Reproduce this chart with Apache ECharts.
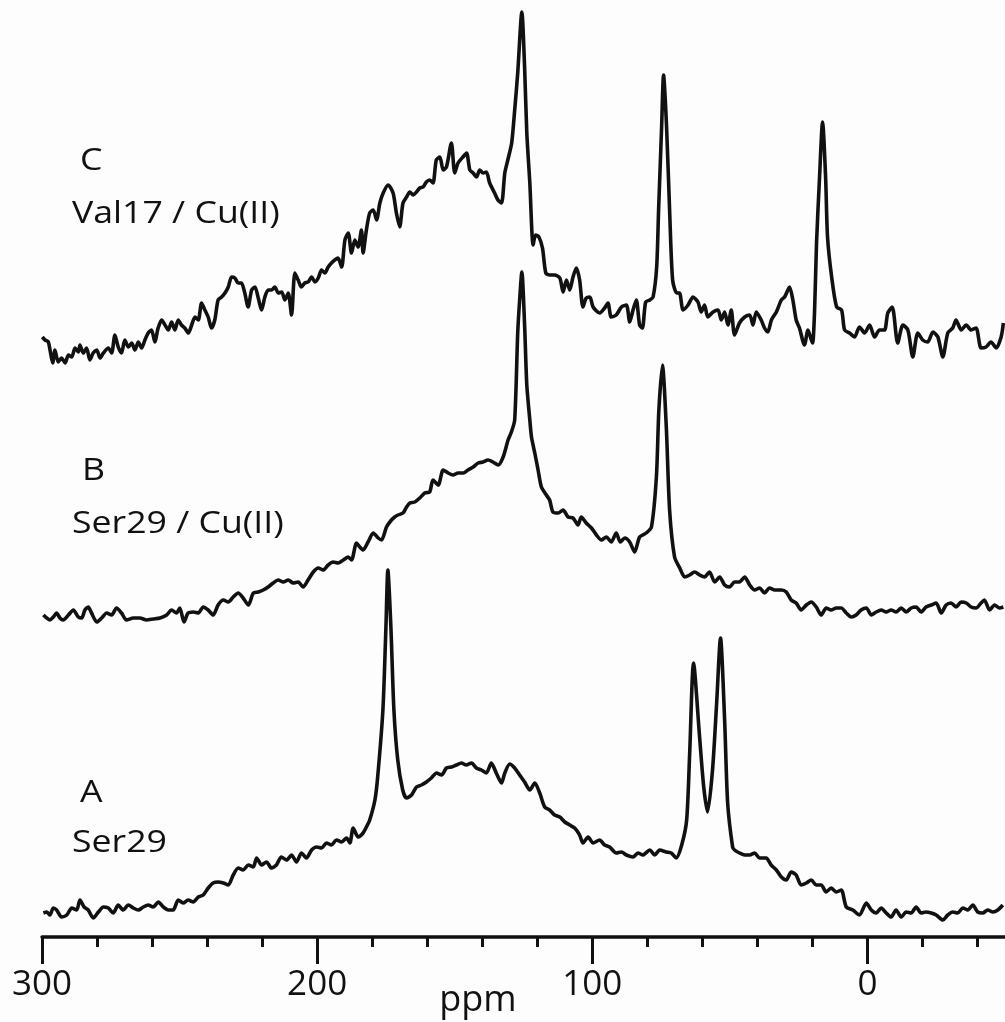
<!DOCTYPE html>
<html>
<head>
<meta charset="utf-8">
<script src="https://cdn.jsdelivr.net/npm/echarts@6/dist/echarts.min.js"></script>
<style>
  html, body { margin: 0; padding: 0; background: #fdfdfd; }
  #chart { width: 1005px; height: 1022px; }
</style>
</head>
<body>
<div id="chart"></div>
<script>
// x axis ticks (ppm, drawn right to left)
const majorTicks = [300, 200, 100, 0];
const minorTicks = [280, 260, 240, 220, 180, 160, 140, 120, 80, 60, 40, 20, -20, -40];

// vertical offset of each trace baseline (A bottom, C top)
const traceNames = ['A', 'B', 'C'];
const offsets = [22, 322, 592];

// [ppm, intensity above its own baseline]
const traceA = [
  [299.5, 2], [298.3, 3], [297.1, 0], [295.9, 7], [294.7, 5], [292.9, -2], [291.0, 0],
  [289.2, 7], [287.4, 5], [286.2, 15], [284.7, 8], [283.2, 5], [281.4, -3], [279.5, 3],
  [277.7, 8], [275.9, 7], [274.1, 2], [272.3, 10], [270.5, 5], [268.6, 10], [266.8, 7],
  [265.0, 5], [263.2, 8], [261.4, 10], [259.6, 8], [257.7, 13], [255.9, 8], [254.1, 5],
  [252.3, 5], [250.5, 15], [248.7, 12], [246.9, 15], [245.0, 13], [243.2, 18], [241.4, 20],
  [239.6, 27], [237.8, 32], [236.0, 33], [234.1, 32], [232.3, 30], [230.5, 40], [228.7, 47],
  [226.9, 45], [225.0, 50], [223.2, 48], [222.0, 57], [220.2, 50], [218.4, 53], [216.6, 47],
  [214.8, 50], [213.0, 58], [211.1, 55], [209.3, 60], [207.5, 53], [205.7, 62], [203.9, 57],
  [202.0, 65], [200.2, 68], [198.4, 67], [196.6, 72], [194.8, 70], [193.0, 75], [191.1, 73],
  [189.3, 77], [188.1, 72], [186.9, 87], [185.1, 78], [183.3, 82], [182.1, 88], [180.9, 95],
  [179.0, 115], [178.0, 138], [176.1, 205], [175.0, 288], [174.3, 345], [173.2, 288],
  [172.1, 205], [170.7, 155], [168.9, 125], [167.5, 117], [165.7, 120], [163.9, 128],
  [162.1, 130], [160.3, 133], [158.5, 137], [156.6, 142], [154.8, 140], [153.0, 147],
  [151.2, 148], [149.4, 150], [147.6, 152], [145.8, 150], [143.9, 152], [142.1, 147],
  [140.3, 145], [138.5, 142], [136.7, 152], [134.9, 142], [133.0, 132], [131.8, 142],
  [130.0, 151], [128.2, 147], [126.4, 140], [124.6, 133], [122.7, 125], [120.9, 132],
  [119.1, 122], [117.3, 108], [115.5, 105], [113.7, 100], [111.8, 98], [110.0, 93],
  [108.2, 90], [106.4, 87], [104.6, 80], [103.4, 72], [101.5, 78], [99.7, 72], [97.3, 75],
  [95.5, 70], [93.7, 68], [91.3, 62], [89.4, 63], [87.6, 60], [85.2, 58], [83.4, 62],
  [81.6, 60], [79.1, 65], [77.3, 60], [75.5, 65], [73.1, 63], [71.3, 62], [69.5, 57],
  [67.5, 70], [65.7, 95], [64.6, 162], [63.2, 252], [61.0, 178], [59.5, 128], [58.1, 103],
  [56.3, 145], [54.8, 212], [53.4, 277], [51.9, 195], [50.8, 112], [49.0, 68], [48.3, 65],
  [46.5, 62], [44.6, 60], [42.8, 60], [41.0, 62], [39.2, 57], [36.8, 57], [35.0, 50],
  [33.1, 45], [31.3, 38], [29.5, 35], [27.7, 43], [25.9, 40], [24.1, 30], [22.2, 32],
  [20.4, 35], [18.6, 30], [16.8, 30], [15.0, 23], [13.2, 27], [11.3, 23], [9.5, 25],
  [7.7, 8], [5.3, 5], [2.9, 0], [0.4, 12], [-1.4, 5], [-3.2, 2], [-5.0, 7], [-6.8, 2],
  [-8.6, -2], [-10.4, 5], [-12.3, -2], [-14.1, 3], [-15.9, 2], [-17.7, 8], [-19.5, 2],
  [-21.3, 3], [-23.2, 2], [-25.0, 0], [-27.4, -5], [-29.2, 0], [-31.0, 3], [-32.8, 2],
  [-34.7, 7], [-36.5, 5], [-38.3, 10], [-40.1, 3], [-41.9, 2], [-43.7, 5], [-45.6, 3],
  [-47.4, 5], [-49.2, 10]
];

const traceB = [
  [299.5, 0], [298.3, -3], [297.1, -5], [295.9, -2], [294.7, 2], [293.5, -3], [292.3, -5],
  [290.4, 0], [288.6, 5], [286.8, -2], [285.6, -3], [284.4, 5], [283.2, 8], [282.0, 2],
  [280.1, -7], [278.3, -3], [276.5, 2], [274.7, 0], [272.9, 7], [271.1, 2], [269.3, -5],
  [266.8, -3], [264.4, -3], [262.0, -5], [259.6, -4], [257.1, -3], [254.7, 0], [252.9, 5],
  [251.1, 2], [249.9, 7], [248.4, -7], [246.9, 2], [245.0, 3], [243.2, 2], [241.4, 8],
  [239.6, 5], [237.8, 0], [236.0, 10], [234.1, 15], [232.3, 13], [230.5, 18], [228.7, 22],
  [226.9, 17], [225.0, 10], [223.2, 22], [221.4, 23], [219.6, 25], [217.8, 28], [216.0, 32],
  [214.2, 35], [212.3, 33], [210.5, 35], [208.7, 32], [206.9, 33], [205.1, 28], [203.3, 35],
  [201.4, 43], [199.6, 47], [197.8, 45], [196.0, 50], [194.2, 53], [192.4, 52], [190.5, 55],
  [188.7, 58], [187.5, 55], [185.7, 72], [184.5, 68], [183.3, 65], [181.5, 73], [179.6, 82],
  [177.8, 77], [176.6, 75], [174.8, 88], [173.0, 95], [171.8, 98], [170.6, 100], [168.8, 102],
  [167.5, 108], [166.3, 112], [164.5, 113], [162.7, 117], [160.9, 122], [159.1, 123],
  [157.9, 135], [156.0, 130], [154.2, 145], [152.4, 142], [150.6, 140], [148.8, 142],
  [146.9, 142], [145.2, 145], [143.3, 148], [141.5, 152], [139.7, 153], [137.9, 155],
  [136.1, 153], [134.2, 150], [132.4, 158], [130.6, 175], [129.4, 183], [128.2, 195],
  [127.1, 282], [126.4, 315], [125.6, 343], [124.6, 290], [123.8, 230], [122.7, 195],
  [122.1, 178], [120.9, 162], [119.7, 145], [118.5, 128], [116.7, 120], [115.5, 115],
  [114.3, 103], [112.4, 102], [110.6, 105], [108.8, 98], [107.0, 97], [105.2, 90], [104.0, 98],
  [102.2, 92], [100.3, 87], [98.5, 80], [96.7, 75], [94.9, 78], [93.1, 73], [91.3, 82],
  [89.8, 73], [88.2, 77], [86.4, 73], [84.6, 63], [82.8, 78], [80.4, 82], [78.5, 88],
  [76.7, 138], [75.8, 205], [74.5, 250], [73.1, 188], [71.9, 105], [70.1, 58], [68.2, 47],
  [66.4, 38], [64.6, 40], [62.8, 43], [61.0, 40], [59.2, 38], [57.4, 43], [55.5, 33],
  [53.7, 38], [51.9, 30], [50.1, 28], [48.3, 33], [46.5, 33], [44.6, 38], [42.8, 30],
  [41.0, 25], [39.2, 27], [37.4, 22], [35.6, 27], [33.7, 25], [31.3, 25], [29.5, 23],
  [27.7, 15], [25.9, 12], [24.1, 5], [22.2, 10], [20.4, 13], [18.6, 8], [16.8, 0], [15.0, 7],
  [13.2, 5], [11.3, 7], [9.5, 7], [7.7, 2], [5.9, -2], [4.1, 0], [2.3, 5], [0.4, 7],
  [-1.4, 0], [-3.2, 3], [-5.0, 5], [-6.8, 3], [-8.6, 5], [-10.4, 3], [-12.3, 7], [-14.1, 3],
  [-15.9, 7], [-17.7, 8], [-19.5, 3], [-21.3, 8], [-23.2, 10], [-25.0, 12], [-26.8, 2],
  [-28.6, 10], [-30.4, 12], [-32.2, 8], [-34.1, 13], [-35.9, 12], [-37.7, 8], [-39.5, 7],
  [-41.3, 12], [-42.5, 15], [-44.4, 5], [-46.2, 10], [-48.0, 7], [-49.4, 8]
];

const traceC = [
  [299.9, 8], [298.9, 5], [297.7, 3], [296.9, -8], [296.1, -18], [295.3, -5], [294.1, -17],
  [292.9, -13], [291.6, -18], [290.4, -10], [289.2, -12], [288.0, -3], [286.8, -7], [286.2, 0],
  [285.0, -8], [283.8, -3], [282.6, -15], [281.4, -8], [280.1, -5], [278.9, -13], [277.7, -8],
  [275.9, -3], [274.7, -8], [273.5, 10], [272.3, -2], [271.1, -8], [269.9, 5], [268.6, -2],
  [267.4, 2], [266.2, -5], [265.0, 3], [263.8, -3], [262.6, 5], [261.4, 12], [260.2, 15],
  [259.0, 3], [257.8, 17], [256.5, 25], [255.3, 20], [254.1, 15], [252.9, 23], [251.7, 15],
  [250.5, 25], [249.3, 20], [248.1, 17], [246.8, 12], [245.6, 20], [244.4, 28], [243.2, 25],
  [242.0, 42], [240.8, 35], [239.6, 28], [238.4, 17], [237.2, 25], [236.0, 45], [234.7, 48],
  [233.5, 52], [232.3, 58], [231.1, 68], [229.9, 67], [228.7, 62], [227.5, 62], [226.3, 52],
  [225.1, 38], [223.8, 55], [222.6, 58], [221.4, 47], [220.2, 35], [219.0, 48], [217.8, 55],
  [216.6, 55], [215.4, 58], [214.1, 52], [212.9, 53], [211.7, 45], [210.5, 52], [209.3, 30],
  [208.1, 72], [206.9, 65], [205.7, 58], [204.5, 62], [203.3, 63], [202.0, 68], [200.8, 63],
  [199.6, 67], [198.4, 75], [197.2, 72], [196.0, 78], [194.8, 82], [193.6, 85], [192.4, 87],
  [191.1, 78], [189.9, 105], [188.7, 112], [187.5, 92], [186.3, 105], [185.1, 98],
  [183.9, 115], [183.3, 92], [182.1, 115], [180.9, 132], [179.6, 135], [178.4, 125],
  [177.2, 142], [176.0, 152], [174.2, 160], [172.4, 152], [171.2, 132], [170.0, 118],
  [168.8, 142], [167.5, 148], [166.3, 153], [165.1, 150], [163.9, 153], [162.7, 157],
  [161.5, 158], [160.3, 163], [159.1, 165], [157.9, 162], [156.7, 185], [155.4, 188],
  [154.2, 175], [153.0, 178], [151.2, 202], [150.0, 172], [148.8, 182], [147.0, 188],
  [145.7, 192], [144.5, 175], [143.3, 172], [142.1, 168], [140.9, 175], [139.7, 172],
  [138.5, 173], [137.3, 162], [135.5, 152], [134.3, 145], [133.0, 142], [131.8, 172],
  [130.7, 185], [129.3, 202], [128.2, 235], [127.1, 272], [125.6, 333], [124.6, 278],
  [123.8, 212], [122.7, 162], [121.5, 100], [120.6, 110], [119.4, 108], [118.1, 97],
  [116.9, 72], [115.5, 70], [113.7, 70], [111.8, 67], [110.6, 53], [109.4, 65], [108.2, 55],
  [107.0, 68], [105.8, 77], [104.6, 65], [103.4, 38], [102.2, 47], [100.9, 48], [99.7, 38],
  [97.3, 32], [95.5, 37], [94.3, 42], [93.1, 28], [91.3, 30], [89.4, 38], [87.6, 40],
  [86.4, 23], [85.2, 35], [84.0, 45], [82.8, 20], [81.8, 17], [80.6, 43], [79.1, 45],
  [77.9, 48], [76.6, 78], [75.9, 135], [74.8, 218], [74.1, 270], [73.0, 218], [71.9, 135],
  [70.8, 65], [69.3, 52], [68.3, 52], [67.0, 35], [65.2, 40], [63.4, 48], [61.6, 43],
  [60.4, 33], [59.2, 40], [58.0, 28], [56.1, 33], [54.3, 35], [53.1, 25], [51.9, 33],
  [50.7, 20], [49.5, 35], [48.3, 10], [46.5, 22], [44.6, 28], [42.8, 30], [41.6, 20],
  [40.4, 33], [38.6, 25], [37.4, 17], [36.2, 13], [34.9, 25], [33.1, 33], [31.3, 45],
  [30.1, 48], [28.3, 58], [27.1, 45], [25.9, 25], [24.7, 17], [22.9, 0], [21.6, 15],
  [20.4, 5], [19.9, 2], [19.2, 35], [18.5, 102], [17.4, 168], [16.3, 223], [15.2, 168],
  [14.5, 108], [13.0, 68], [11.2, 38], [9.4, 35], [8.3, 15], [6.5, 12], [4.7, 8], [2.9, 18],
  [1.0, 12], [-0.8, 20], [-2.6, 8], [-4.4, 15], [-6.2, 15], [-7.4, 32], [-9.0, 38],
  [-11.0, 2], [-12.9, 20], [-14.7, 15], [-16.5, -12], [-18.3, 12], [-20.1, 5], [-21.9, 3],
  [-23.8, 13], [-25.6, 8], [-27.4, -12], [-29.2, 12], [-31.0, 17], [-32.2, 25], [-34.1, 15],
  [-35.9, 20], [-37.7, 15], [-39.5, 17], [-41.3, -3], [-43.1, -2], [-44.9, 3], [-46.8, -3],
  [-48.6, 8], [-49.4, 22]
];

const traces = [traceA, traceB, traceC];

const ink = '#111';
const chart = echarts.init(document.getElementById('chart'));

function label(text, x, y) {
  return {
    type: 'text', x: x, y: y, scaleX: 1.15,
    style: { text: text, fill: ink, font: '31px "Open Sans"', verticalAlign: 'middle' }
  };
}

const options = {
  backgroundColor: '#fdfdfd',
  animation: false,
  grid: { left: 42, width: 964, top: 0, bottom: 85 },
  xAxis: [
    {
      type: 'value', min: -50, max: 300, inverse: true,
      axisLine: { lineStyle: { color: ink, width: 3.5 } },
      axisTick: { customValues: majorTicks, length: 27, lineStyle: { color: ink, width: 3 } },
      axisLabel: {
        customValues: majorTicks, margin: 31, color: ink,
        fontFamily: 'Open Sans', fontSize: 35
      },
      splitLine: { show: false }
    },
    {
      type: 'value', min: -50, max: 300, inverse: true, position: 'bottom',
      axisLine: { show: false },
      axisTick: { customValues: minorTicks, length: 10, lineStyle: { color: ink, width: 3 } },
      axisLabel: { show: false },
      splitLine: { show: false }
    }
  ],
  yAxis: { type: 'value', min: 0, max: 937, show: false },
  graphic: [
    label('C', 80, 161),
    label('Val17 / Cu(II)', 72, 214),
    label('B', 82, 471),
    label('Ser29 / Cu(II)', 72, 524),
    label('A', 80, 793),
    label('Ser29', 72, 843),
    {
      type: 'text', x: 478, y: 1001,
      style: { text: 'ppm', fill: ink, font: '36px "Open Sans"', align: 'center', verticalAlign: 'middle' }
    }
  ],
  series: traces.map((t, i) => ({
    name: traceNames[i],
    type: 'line',
    xAxisIndex: 0,
    showSymbol: false,
    smooth: 0.25,
    lineStyle: { color: ink, width: 3.6, join: 'round' },
    data: t.map(p => [p[0], p[1] + offsets[i]])
  }))
};

chart.setOption(options);
</script>
</body>
</html>
